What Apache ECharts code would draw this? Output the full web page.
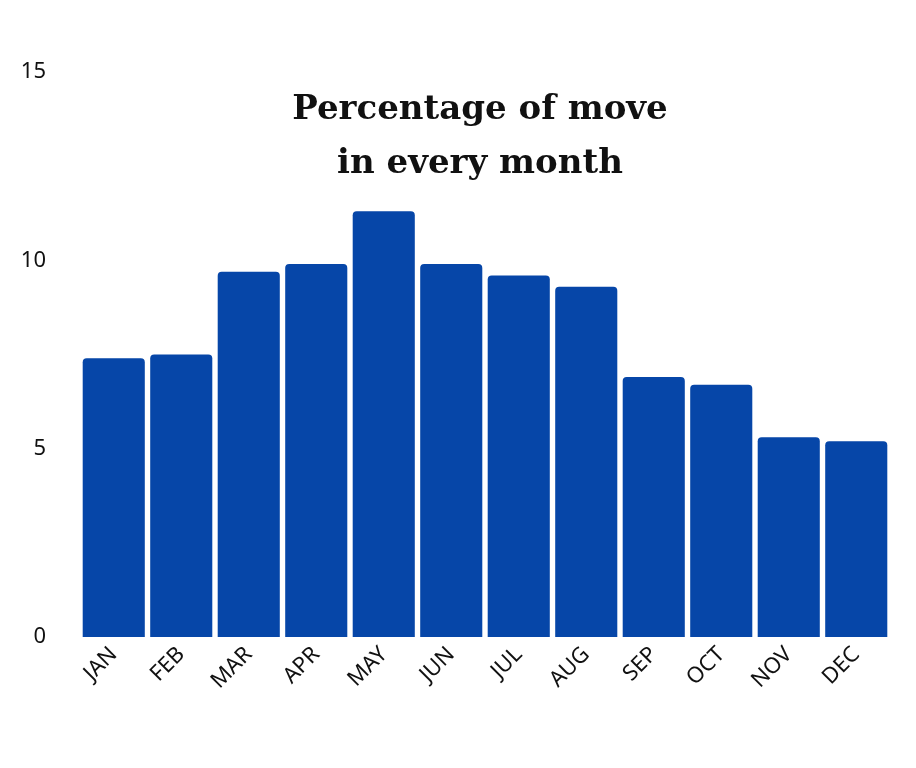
<!DOCTYPE html>
<html><head><meta charset="utf-8">
<script src="https://cdn.jsdelivr.net/npm/echarts@6/dist/echarts.min.js"></script>
<style>html,body{margin:0;padding:0;background:#fff}#c{width:916px;height:768px}</style>
</head><body><div id="c"></div>
<script>
const months = ["JAN","FEB","MAR","APR","MAY","JUN","JUL","AUG","SEP","OCT","NOV","DEC"];
const values = [7.4,7.5,9.7,9.9,11.3,9.9,9.6,9.3,6.9,6.7,5.3,5.2];
const chart = echarts.init(document.getElementById('c'));
chart.setOption({
  backgroundColor:'#fff',
  title:{text:'Percentage of move\nin every month',left:475,top:78,textAlign:'center',
    textStyle:{fontFamily:'DejaVu Serif',fontWeight:'bold',fontSize:34,lineHeight:54,color:'#111'}},
  grid:{left:80,right:26,top:72,bottom:131},
  xAxis:{type:'category',data:months,axisLine:{show:false},axisTick:{show:false},
    axisLabel:{rotate:45,fontSize:22,color:'#111',margin:14,fontFamily:'Noto Sans'}},
  yAxis:{type:'value',min:0,max:15,interval:5,splitLine:{show:false},
    axisLabel:{fontSize:22,color:'#111',margin:34,fontFamily:'Noto Sans'}},
  series:[{type:'bar',data:values,barCategoryGap:'8%',
    itemStyle:{color:'#0646a8',borderRadius:[4,4,0,0]}}]
});
</script></body></html>
